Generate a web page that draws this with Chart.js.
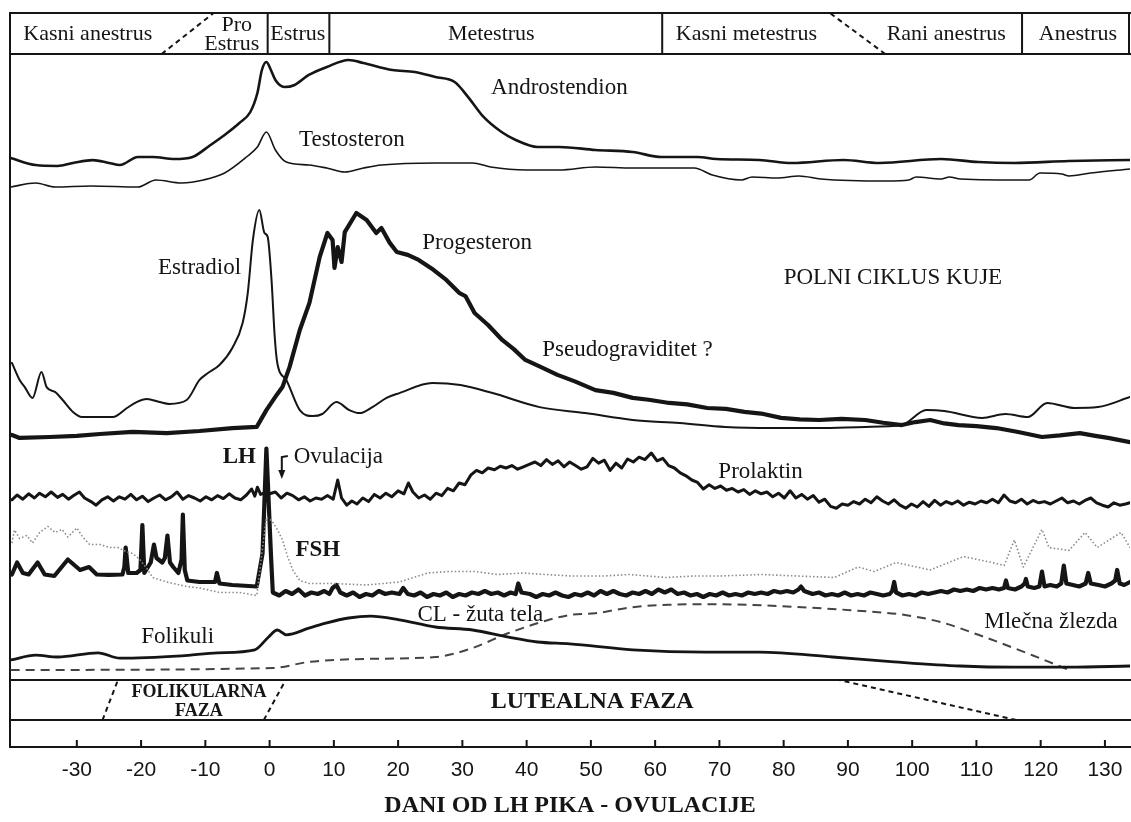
<!DOCTYPE html>
<html lang="sr">
<head>
<meta charset="utf-8">
<title>Polni ciklus kuje</title>
<script src="https://cdn.jsdelivr.net/npm/chart.js@4/dist/chart.umd.min.js"></script>
<style>
html,body{margin:0;padding:0;background:#fff;}
#wrap{width:1131px;height:822px;}
</style>
</head>
<body>
<div id="wrap"><canvas id="c" width="1131" height="822"></canvas></div>
<script>
// ---- day axis ----
const dayTicks = [-30, -20, -10, 0, 10, 20, 30, 40, 50, 60, 70, 80, 90, 100, 110, 120, 130];

// ---- cycle phases (top band) ----
const cyclePhases = ['Kasni anestrus', 'Pro\nEstrus', 'Estrus', 'Metestrus', 'Kasni metestrus', 'Rani anestrus', 'Anestrus'];
const cyclePhaseCentres = [-28.3, -5.9, 4.4, 34.5, 74.2, 105.3, 125.8];
const cycleDividers = [-0.3, 9.3, 61.1, 117.1];
// gradual transitions: [day at bottom edge, day at top edge]
const cycleTransitions = [[-16.8, -8.7], [95.8, 87.2]];

// ---- ovarian phases (bottom band) ----
const ovarianPhases = ['FOLIKULARNA\nFAZA', 'LUTEALNA FAZA'];
const ovarianPhaseCentres = [-11.0, 50.2];
const ovarianTransitions = [[-26.0, -23.6], [-0.9, 2.5], [116.2, 88.6]];

// ---- hormone levels (relative units) : [day, level] ----
const androstendion = [[-40.3,24.6],[-36.4,19.2],[-33.0,18.5],[-30.6,20.8],[-27.5,23.0],[-25.0,20.8],[-23.3,19.2],[-20.5,25.4],[-18.2,25.4],[-14.8,23.8],[-12.0,25.4],[-9.2,34.6],[-7.0,42.3],[-4.7,51.5],[-3.0,60.0],[-1.9,74.6],[-1.2,92.3],[-0.5,98.5],[0.2,92.3],[0.9,84.6],[2.3,79.2],[3.9,80.8],[6.1,88.5],[8.9,94.6],[12.3,100.0],[14.6,97.7],[19.1,92.3],[22.6,90.8],[25.8,86.9],[28.8,83.1],[30.9,71.5],[33.3,56.2],[36.1,44.6],[38.3,38.5],[41.7,33.1],[45.1,33.1],[50.7,30.8],[56.5,29.2],[61.0,25.4],[66.6,25.4],[69.5,23.8],[76.2,23.1],[81.3,20.8],[89.3,23.1],[94.9,20.8],[104.5,23.8],[110.3,21.5],[115.9,20.8],[124.4,22.3],[133.9,23.1]];
const testosteron = [[-40.3,2.3],[-36.4,5.4],[-33.4,2.3],[-27.8,3.1],[-20.5,2.3],[-17.7,7.7],[-13.7,5.4],[-10.3,7.7],[-7.0,13.1],[-3.6,25.4],[-1.9,33.1],[-0.5,44.6],[0.9,30.8],[2.6,21.5],[6.1,19.2],[8.9,16.9],[11.7,13.8],[14.6,16.9],[17.4,19.2],[25.8,20.8],[31.6,20.8],[34.4,17.7],[40.0,15.4],[45.1,15.4],[50.7,17.7],[56.5,16.9],[66.1,16.9],[68.9,11.5],[73.4,7.7],[75.1,10.0],[79.0,9.2],[82.4,10.8],[85.8,8.5],[96.1,6.9],[99.5,7.7],[100.6,10.0],[104.5,8.5],[105.8,10.0],[107.5,8.5],[118.2,7.7],[119.9,13.1],[123.3,12.3],[124.4,10.8],[127.8,13.1],[133.9,16.2]];
const estradiol = [[-40.1,33.5],[-38.9,26.1],[-38.1,23.0],[-36.9,18.3],[-35.5,29.6],[-34.7,23.0],[-33.4,20.9],[-32.2,17.4],[-30.6,12.2],[-29.2,10.0],[-26.4,10.0],[-24.4,10.0],[-22.2,13.9],[-20.7,16.5],[-19.1,17.8],[-17.1,16.5],[-15.6,15.7],[-12.9,17.4],[-10.9,26.1],[-9.6,29.1],[-7.8,32.6],[-5.8,40.0],[-4.2,50.9],[-3.4,63.9],[-2.6,87.0],[-1.6,100.0],[-0.8,90.0],[-0.3,88.3],[0.3,69.6],[0.8,44.8],[1.2,33.5],[2.6,26.1],[4.7,13.0],[6.7,10.4],[8.2,11.3],[10.4,16.5],[12.4,13.0],[14.0,11.7],[16.0,14.3],[18.2,18.3],[20.2,20.4],[25.3,24.8],[29.7,23.9],[34.7,20.4],[42.0,14.3],[49.1,11.7],[56.5,8.7],[63.8,7.4],[70.9,5.7],[78.2,5.2],[85.5,5.2],[92.7,5.7],[98.4,6.5],[102.2,13.0],[105.0,12.6],[110.9,9.6],[114.5,11.3],[118.0,10.0],[121.0,16.1],[125.3,13.9],[128.9,14.3],[133.9,18.7]];
const progesteron = [[-40.1,2.2],[-38.9,0.9],[-34.2,1.3],[-30.0,1.8],[-26.4,2.6],[-21.3,3.5],[-16.0,3.0],[-10.9,3.9],[-5.8,5.2],[-2.0,5.7],[-0.5,13.0],[1.1,19.6],[2.0,23.0],[3.1,31.7],[4.7,47.8],[6.2,59.6],[7.8,79.6],[9.0,90.0],[9.8,87.0],[10.1,74.8],[10.6,83.9],[11.2,77.4],[11.7,90.4],[13.5,98.7],[15.1,95.7],[16.6,90.0],[17.4,92.2],[18.7,85.7],[19.8,81.7],[21.5,80.5],[23.2,78.3],[25.5,74.0],[27.5,69.6],[29.5,64.0],[30.5,62.5],[31.9,55.2],[34.0,50.0],[36.2,43.5],[38.0,39.5],[39.8,34.8],[42.0,32.0],[44.8,28.3],[47.5,25.5],[50.7,21.7],[53.5,20.5],[56.5,18.3],[59.0,17.5],[62.2,16.1],[65.0,15.5],[68.1,13.9],[71.0,13.5],[73.9,12.2],[76.5,11.5],[79.6,9.6],[82.5,9.0],[85.5,8.7],[89.0,9.2],[92.7,8.7],[95.5,7.5],[98.4,6.5],[100.5,7.8],[102.8,8.7],[105.0,7.2],[107.2,6.5],[110.0,6.0],[113.1,5.2],[116.5,3.5],[120.2,1.3],[123.0,2.0],[126.1,3.0],[128.5,1.8],[130.5,0.9],[133.9,-0.9]];
const prolaktin = [[-40.1,17],[-39.3,25],[-38.4,18],[-37.5,27],[-36.6,20],[-35.8,28],[-34.9,22],[-34.0,30],[-33.0,21],[-32.2,26],[-31.3,18],[-30.5,24],[-29.6,30],[-28.8,20],[-27.8,14],[-27.0,8],[-26.1,17],[-25.2,22],[-24.3,15],[-23.4,22],[-22.5,18],[-21.6,26],[-20.7,17],[-19.8,23],[-18.9,14],[-18.0,20],[-17.1,25],[-16.2,17],[-15.3,22],[-14.4,30],[-13.5,18],[-12.6,24],[-11.7,20],[-10.8,15],[-9.9,22],[-9.0,17],[-8.1,24],[-7.2,19],[-6.3,27],[-5.4,20],[-4.5,17],[-3.6,25],[-2.8,35],[-2.3,23],[-1.9,38],[-1.4,26],[-0.9,28],[0.0,27],[0.9,30],[1.8,20],[2.7,28],[3.6,24],[4.5,17],[5.4,22],[6.3,15],[7.2,20],[8.1,18],[9.0,24],[9.9,18],[10.6,50],[11.2,20],[12.0,8],[12.8,15],[13.6,10],[14.5,20],[15.4,14],[16.3,26],[17.2,20],[18.1,28],[19.0,22],[20.0,32],[20.9,27],[21.6,45],[22.3,30],[23.2,20],[24.1,25],[25.0,18],[25.9,28],[26.8,24],[27.7,36],[28.6,32],[29.5,45],[30.4,42],[31.3,58],[32.2,66],[33.1,62],[34.0,70],[35.0,67],[35.9,73],[36.8,70],[37.7,74],[38.6,68],[39.5,72],[40.4,76],[41.3,80],[42.2,74],[43.1,84],[44.0,76],[44.9,82],[45.8,72],[46.7,80],[47.6,74],[48.5,68],[49.4,72],[50.3,86],[51.2,78],[52.1,83],[53.0,66],[53.9,78],[54.8,70],[55.7,85],[56.6,80],[57.5,88],[58.4,84],[59.4,95],[60.3,82],[61.2,86],[62.1,74],[63.0,70],[63.9,62],[64.8,57],[65.7,50],[66.6,46],[67.5,35],[68.4,42],[69.3,36],[70.2,40],[71.1,33],[72.0,36],[72.9,30],[73.8,34],[74.7,26],[75.6,32],[76.5,27],[77.4,30],[78.3,22],[79.2,28],[80.1,20],[81.0,32],[81.9,20],[82.8,26],[83.7,18],[84.6,24],[85.5,13],[86.4,18],[87.3,6],[88.2,3],[89.1,10],[90.0,8],[90.9,14],[91.8,10],[92.7,18],[93.6,12],[94.5,22],[95.4,15],[96.3,10],[97.2,17],[98.1,8],[99.0,3],[99.9,10],[100.8,5],[101.7,14],[102.6,6],[103.5,16],[104.4,8],[105.3,14],[106.2,10],[107.1,15],[108.0,8],[108.9,13],[109.8,10],[110.7,15],[111.6,12],[112.5,18],[113.4,12],[114.3,25],[115.2,15],[116.1,12],[117.0,18],[117.9,10],[118.8,16],[119.7,12],[120.6,14],[121.5,10],[122.4,15],[123.3,20],[124.2,12],[125.1,15],[126.0,10],[126.9,16],[127.8,20],[128.7,12],[129.6,8],[130.5,5],[131.4,12],[132.3,8],[133.2,10],[133.9,12]];
const lh = [[-40.1,17],[-39.3,25],[-38.4,18],[-37.5,17],[-36.1,25],[-35.0,17],[-33.5,16],[-31.4,27],[-29.5,20],[-28.1,22],[-26.9,17],[-25.0,16.7],[-22.9,17],[-22.6,22],[-22.4,35],[-22.0,18],[-20.7,18],[-20.1,20],[-19.8,50],[-19.5,18],[-18.5,25],[-18.0,37],[-17.6,28],[-16.7,25],[-16.3,28],[-15.9,43],[-15.5,25],[-15.0,22],[-14.2,18],[-13.7,27],[-13.5,57],[-13.2,20],[-12.8,13],[-10.9,12],[-8.5,12],[-8.2,18],[-7.8,11],[-5.8,10],[-2.0,9],[-1.1,31],[-0.5,101],[0.2,31],[0.5,5],[1.5,3],[2.5,6],[3.5,4],[4.5,7],[5.5,3],[6.5,5],[7.5,4],[8.5,6],[9.3,4],[9.8,8],[10.4,10],[11.0,5],[12.0,3],[13.0,5],[14.0,2],[15.0,4],[16.0,3],[17.0,6],[18.0,4],[19.0,5],[20.2,4],[20.8,8],[21.5,4],[22.5,3],[23.5,5],[24.5,2],[25.5,4],[26.5,3],[27.5,5],[28.5,2],[29.5,4],[30.5,3],[31.5,5],[32.5,4],[33.5,6],[34.5,4],[35.5,5],[36.5,3],[37.5,5],[38.3,4],[38.7,11],[39.2,5],[40.5,4],[41.5,2],[42.5,4],[43.5,3],[44.5,5],[45.5,3],[46.5,2],[47.5,4],[48.5,3],[49.5,5],[50.5,3],[51.5,6],[52.5,4],[53.5,6],[54.5,4],[55.5,3],[56.5,5],[57.5,4],[58.5,6],[59.5,4],[60.5,7],[61.5,5],[62.5,7],[63.5,4],[64.5,5],[65.5,3],[66.5,4],[67.5,2],[68.5,4],[69.5,3],[70.5,5],[71.5,3],[72.5,4],[73.5,3],[74.5,5],[75.5,4],[76.5,5],[77.5,4],[78.5,6],[79.5,5],[80.5,6],[81.5,5],[82.3,7],[82.7,9],[83.2,6],[84.5,4],[85.5,5],[86.5,3],[87.5,4],[88.5,3],[89.5,5],[90.5,3],[91.5,4],[92.5,3],[93.5,5],[94.5,4],[95.5,3],[96.5,4],[96.9,6],[97.2,12],[97.5,5],[98.5,3],[99.5,4],[100.5,3],[101.5,5],[102.5,4],[103.5,5],[104.5,6],[105.5,5],[106.5,7],[107.5,6],[108.5,7],[109.5,6],[110.5,8],[111.5,7],[112.5,8],[113.5,7],[114.3,8],[114.6,13],[114.9,8],[116.0,7],[117.0,9],[117.5,11],[117.7,14],[118.0,9],[119.0,8],[119.8,9],[120.2,19],[120.6,9],[121.5,10],[122.5,9],[123.2,11],[123.6,23],[124.0,11],[125.0,10],[126.0,9],[127.0,11],[127.4,18],[127.8,11],[129.0,10],[130.0,9],[131.0,11],[131.6,13],[131.9,20],[132.3,11],[133.0,10],[133.9,12]];
const fsh = [[-40.1,38],[-39.7,46.7],[-38.9,41],[-37.8,43],[-36.9,38],[-35.8,45],[-34.5,49],[-33.4,45],[-32.3,47],[-31.4,42],[-30.0,48],[-29.1,42],[-28.0,37],[-26.4,37],[-24.9,35],[-23.6,35],[-22.2,32],[-21.3,31],[-20.2,27],[-19.1,21],[-18.2,15],[-16.0,12],[-12.9,9],[-10.9,8],[-7.8,5],[-4.7,5],[-2.0,3],[-1.2,31],[-0.5,55],[0.3,53],[1.2,47],[2.0,40],[2.8,29],[3.6,20],[4.7,13],[6.2,11],[9.8,11],[15.1,10],[20.2,12],[24.6,18],[28.0,19],[32.0,19],[35.5,17],[39.5,18],[43.0,17],[47.0,16],[52.0,16],[56.0,17],[61.7,15],[66.0,16],[70.0,16],[76.7,17],[82.0,16],[87.9,15],[91.6,22],[94.1,19],[97.5,25],[102.8,20],[108.0,29],[112.4,25],[114.3,23],[115.9,40],[117.3,22],[120.2,47],[121.3,35],[124.4,33],[126.9,45],[128.8,35],[132.5,45],[133.9,35]];
const folikuli = [[-40.3,20],[-36.4,28],[-33.0,25],[-26.7,32],[-23.3,23],[-13.7,27],[-8.1,32],[-2.3,37],[-0.2,58],[1.2,70],[2.6,62],[6.1,73],[8.9,82],[12.3,90],[15.7,93],[20.2,87],[25.8,75],[31.6,70],[37.2,58],[41.7,50],[46.7,47],[56.5,37],[67.8,33],[76.2,33],[87.6,25],[97.2,17],[107.5,10],[115.9,8],[124.4,8],[133.9,10]];
const mlecnaZlezda = [[-40.3,3.3],[0.5,6.7],[6.1,16.7],[14.6,21.7],[25.8,25],[31.6,40],[37.2,65],[46.7,95],[50.7,98],[56.5,108],[62.1,112],[68.9,113],[79.0,110],[90.4,103],[98.9,95],[104.5,83],[110.3,62],[118.7,28],[124.4,3.3]];

// ---- text labels on the curves: [text, day, axis, level, bold] ----
const curveNotes = [
  ['Androstendion', 45.1, 'yAndro', 78.5, false],
  ['Testosteron', 12.8, 'yAndro', 38.5, false],
  ['Estradiol', -10.9, 'ySteroid', 74.8, false],
  ['Progesteron', 32.3, 'ySteroid', 85.7, false],
  ['Pseudograviditet ?', 55.7, 'ySteroid', 39.1, false],
  ['POLNI CIKLUS KUJE', 97.0, 'ySteroid', 70.4, false],
  ['Prolaktin', 76.4, 'yPrl', 63.3, false],
  ['LH', -4.7, 'yGonad', 95.3, true],
  ['Ovulacija', 10.7, 'yGonad', 95.3, false],
  ['FSH', 7.5, 'yGonad', 33.3, true],
  ['Folikuli', -14.3, 'yOvary', 58.3, false],
  ['CL - žuta tela', 32.8, 'yOvary', 95, false],
  ['Mlečna žlezda', 121.6, 'yOvary', 83.3, false]
];
const ovulationDay = 1.9;

const SERIF = '"Liberation Serif", "DejaVu Serif", serif';
const SANS = '"Liberation Sans", Arial, sans-serif';
const INK = '#151515';

const pts = arr => arr.map(([x, y]) => ({ x, y }));

function line(label, data, axis, opts) {
  return Object.assign({
    label, data: pts(data), yAxisID: axis,
    borderColor: INK, borderWidth: 2, pointRadius: 0, fill: false,
    tension: 0, borderJoinStyle: 'round', borderCapStyle: 'round'
  }, opts || {});
}

const datasets = [
  line('Androstendion', androstendion, 'yAndro', { borderWidth: 2.6, cubicInterpolationMode: 'monotone' }),
  line('Testosteron', testosteron, 'yAndro', { borderWidth: 1.6, cubicInterpolationMode: 'monotone' }),
  line('Estradiol', estradiol, 'ySteroid', { borderWidth: 2, cubicInterpolationMode: 'monotone' }),
  line('Progesteron', progesteron, 'ySteroid', { borderWidth: 4.2 }),
  line('Prolaktin', prolaktin, 'yPrl', { borderWidth: 3 }),
  line('FSH', fsh, 'yGonad', { borderWidth: 1.6, borderColor: '#8a8a8a', borderDash: [1.5, 2.2], borderCapStyle: 'butt' }),
  line('LH', lh, 'yGonad', { borderWidth: 4.2 }),
  line('Folikuli / CL', folikuli, 'yOvary', { borderWidth: 2.8, cubicInterpolationMode: 'monotone' }),
  line('Mlečna žlezda', mlecnaZlezda, 'yOvary', { borderWidth: 2, borderColor: '#444', borderDash: [9, 6], borderCapStyle: 'butt', cubicInterpolationMode: 'monotone' })
];

// frame, phase bands, inner tick marks and curve labels
const framePlugin = {
  id: 'frame',
  beforeDatasetsDraw(chart) {
    const { ctx, chartArea: a, scales: { x } } = chart;
    const X = d => x.getPixelForValue(d);
    const bandTop = a.top, bandBot = a.top + 41;
    const lowTop = a.bottom - 67, lowBot = a.bottom - 27;
    ctx.save();
    ctx.strokeStyle = INK;
    ctx.lineWidth = 2;
    ctx.lineCap = 'butt';
    ctx.beginPath();
    [bandTop, bandBot, lowTop, lowBot, a.bottom].forEach(y => { ctx.moveTo(a.left - 1, y); ctx.lineTo(a.right + 1, y); });
    ctx.moveTo(a.left, bandTop); ctx.lineTo(a.left, a.bottom);
    ctx.moveTo(a.right - 1, bandTop); ctx.lineTo(a.right - 1, bandBot);
    cycleDividers.forEach(d => { ctx.moveTo(X(d), bandTop); ctx.lineTo(X(d), bandBot); });
    dayTicks.forEach(d => { ctx.moveTo(X(d), a.bottom - 7); ctx.lineTo(X(d), a.bottom); });
    ctx.stroke();

    ctx.setLineDash([5, 4]);
    ctx.lineWidth = 2;
    ctx.beginPath();
    cycleTransitions.forEach(([b, t]) => { ctx.moveTo(X(b), bandBot); ctx.lineTo(X(t), bandTop); });
    ovarianTransitions.forEach(([b, t]) => { ctx.moveTo(X(b), lowBot); ctx.lineTo(X(t), lowTop); });
    ctx.stroke();
    ctx.setLineDash([]);

    ctx.fillStyle = INK;
    ctx.textAlign = 'center';
    ctx.textBaseline = 'middle';
    ctx.font = '22px ' + SERIF;
    cyclePhases.forEach((name, i) => {
      const parts = name.split('\n');
      const cx = X(cyclePhaseCentres[i]);
      if (parts.length === 1) ctx.fillText(name, cx, bandTop + 21);
      else { ctx.fillText(parts[0], cx + 5, bandTop + 12); ctx.fillText(parts[1], cx, bandTop + 31); }
    });
    ovarianPhases.forEach((name, i) => {
      const parts = name.split('\n');
      const cx = X(ovarianPhaseCentres[i]);
      if (parts.length === 1) { ctx.font = 'bold 24px ' + SERIF; ctx.fillText(name, cx, lowTop + 22); }
      else {
        ctx.font = 'bold 18px ' + SERIF;
        ctx.fillText(parts[0], cx, lowTop + 12);
        ctx.fillText(parts[1], cx, lowTop + 31);
      }
    });
    ctx.restore();
  },
  afterDatasetsDraw(chart) {
    const { ctx, scales } = chart;
    const X = d => scales.x.getPixelForValue(d);
    ctx.save();
    ctx.fillStyle = INK;
    ctx.textAlign = 'center';
    ctx.textBaseline = 'middle';
    curveNotes.forEach(([text, day, axis, level, bold]) => {
      ctx.font = (bold ? 'bold ' : '') + '23px ' + SERIF;
      ctx.fillText(text, X(day), scales[axis].getPixelForValue(level));
    });
    // ovulation arrow
    const ox = X(ovulationDay);
    const oy = scales.yGonad.getPixelForValue(95.3);
    ctx.strokeStyle = INK;
    ctx.lineWidth = 2;
    ctx.beginPath();
    ctx.moveTo(ox + 6, oy - 1); ctx.lineTo(ox, oy); ctx.lineTo(ox, oy + 15);
    ctx.stroke();
    ctx.beginPath();
    ctx.moveTo(ox - 3.5, oy + 13); ctx.lineTo(ox + 3.5, oy + 13); ctx.lineTo(ox, oy + 22); ctx.closePath();
    ctx.fill();
    ctx.restore();
  }
};

new Chart(document.getElementById('c'), {
  type: 'line',
  data: { datasets },
  plugins: [framePlugin],
  options: {
    responsive: false,
    animation: false,
    events: [],
    layout: { padding: { top: 13, left: 10, right: 1, bottom: 4 } },
    plugins: { legend: { display: false }, tooltip: { enabled: false } },
    scales: {
      x: {
        type: 'linear', min: -40.4, max: 133.9,
        afterBuildTicks: s => { s.ticks = dayTicks.map(v => ({ value: v })); },
        // keep the plot running to the frame edges; end labels need no extra room
        afterFit: s => { s.paddingLeft = 0; s.paddingRight = 0; },
        grid: { display: false, drawTicks: false },
        border: { display: false },
        ticks: { padding: 13, color: INK, font: { family: SANS, size: 21, lineHeight: 1 }, maxRotation: 0, autoSkip: false },
        title: { display: true, text: 'DANI OD LH PIKA - OVULACIJE', color: INK, font: { family: SERIF, size: 24, weight: 'bold', lineHeight: 1 }, padding: { top: 0, bottom: 0 } }
      },
      yAndro: { type: 'linear', display: false, min: -428.46, max: 136.15 },
      ySteroid: { type: 'linear', display: false, min: -133.48, max: 185.65 },
      yPrl: { type: 'linear', display: false, min: -395, max: 828.33 },
      yGonad: { type: 'linear', display: false, min: -98, max: 391.33 },
      yOvary: { type: 'linear', display: false, min: -125, max: 1098.33 }
    }
  }
});
</script>
</body>
</html>
